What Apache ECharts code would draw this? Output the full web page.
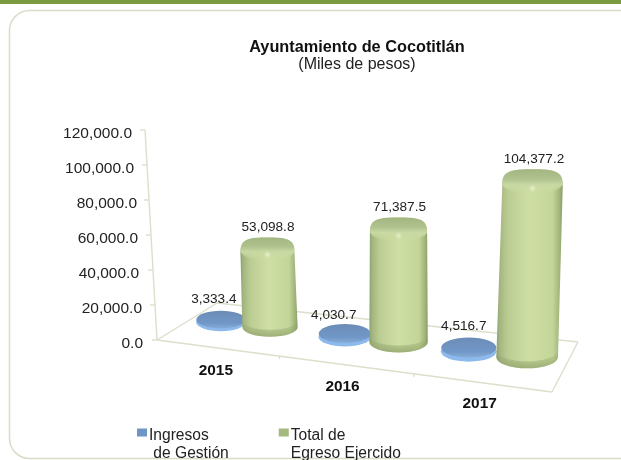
<!DOCTYPE html>
<html><head><meta charset="utf-8">
<style>html,body{margin:0;padding:0;background:#fff}#c{width:621px;height:460px}</style>
<script src="https://cdn.jsdelivr.net/npm/echarts@6/dist/echarts.min.js"></script>
</head><body><div id="c"></div>
<script>
const categories = ['2015', '2016', '2017'];
const ingresos = [3333.4, 4030.7, 4516.7];
const egresos = [53098.8, 71387.5, 104377.2];
const axisTicks = [0, 20000, 40000, 60000, 80000, 100000, 120000];
const seriesNames = ['Ingresos\n de Gestión', 'Total de\nEgreso Ejercido'];

const FONT = '"Liberation Sans", Arial, sans-serif';
const G = echarts.graphic;
const fmt = v => v.toLocaleString('en-US', {minimumFractionDigits: 1, maximumFractionDigits: 1});
const GL = 157, GW = 395, GT = 130, GB = 340;
// floor of the pseudo-3D box
const FL = [157, 340], FR = [552, 392], BL = [217, 303], BR = [578, 342];
function floorPt(u, v) {
  const fx = FL[0] + (FR[0] - FL[0]) * u, fy = FL[1] + (FR[1] - FL[1]) * u;
  const bx = BL[0] + (BR[0] - BL[0]) * u, by = BL[1] + (BR[1] - BL[1]) * u;
  return [fx + (bx - fx) * v, fy + (by - fy) * v];
}
const ell = (cx, cy, rx, ry) => `M${cx - rx} ${cy}A${rx} ${ry} 0 1 1 ${cx + rx} ${cy}A${rx} ${ry} 0 1 1 ${cx - rx} ${cy}Z`;
const grad = (x2, y2, stops) => new G.LinearGradient(0, 0, x2, y2, stops.map(c => ({offset: c[0], color: c[1]})));
const labelDx = [[-7, 0.5], [-11, 1], [-5, 1.5]];

function cyl(seriesIdx) {
  return function (params, api) {
    const cat = api.value(0), val = api.value(1);
    const p = api.coord([cat, val]);
    const ub = (p[0] - GL) / GW;
    const c = 0.14 + (ub - 1 / 6) * 1.011;
    const h = 0.0655 + (ub - 1 / 6) * 0.01875;
    const u = seriesIdx === 0 ? c - h : c + h;
    const base = floorPt(u, 0.6);
    const k = (0.875 + (base[0] - 269) * 0.000405) * (seriesIdx === 0 ? 0.5 : 1);
    const hPx = (GB - p[1]) * k;
    const tilt = (base[0] - 400) * 0.000235;
    const tx = base[0] + tilt * hPx, ty = base[1] - hPx;
    const rx = 24.8 + 0.0125 * (base[0] - 220) + seriesIdx * 2.2;
    const children = [];
    if (seriesIdx === 0) {
      const ry = rx * 0.37;
      children.push({type: 'path', shape: {pathData: ell(base[0], base[1] + 1, rx, ry)}, style: {fill: '#8dbaec'}});
      children.push({type: 'path', shape: {pathData: ell(tx, ty + 1, rx - 0.3, ry - 0.3)},
        style: {fill: grad(0, 1, [[0, '#6c8cb6'], [0.7, '#7197c8'], [1, '#86acd9']])}});
      children.push({type: 'text', x: tx + labelDx[cat][0], y: ty - ry - 3 + (cat === 1 ? 2 : 0),
        style: {text: fmt(val), font: '13.6px ' + FONT, fill: '#222', align: 'center', verticalAlign: 'bottom'}});
    } else {
      const rT = rx - 0.6, ryT = rT * 0.3, ryB = rx * 0.36;
      const top = ty - ryT;
      const body = `M${tx - rT} ${ty + 8}C${tx - rT} ${top + 1} ${tx - rT * 0.65} ${top} ${tx} ${top}C${tx + rT * 0.65} ${top} ${tx + rT} ${top + 1} ${tx + rT} ${ty + 8}L${base[0] + rx} ${base[1]}A${rx} ${ryB} 0 0 1 ${base[0] - rx} ${base[1]}Z`;
      children.push({type: 'path', shape: {pathData: body},
        style: {fill: grad(1, 0, [[0, '#8d9f6c'], [0.05, '#a4b67f'], [0.18, '#bccd94'], [0.5, '#cfdfa4'], [0.85, '#c3d598'], [0.95, '#a2b57c'], [1, '#8b9e69']])}});
      // soft lower rim
      const rim = `M${base[0] - rx} ${base[1] - 7}L${base[0] - rx} ${base[1]}A${rx} ${ryB} 0 0 0 ${base[0] + rx} ${base[1]}L${base[0] + rx} ${base[1] - 7}A${rx} ${ryB} 0 0 1 ${base[0] - rx} ${base[1] - 7}Z`;
      children.push({type: 'path', shape: {pathData: rim},
        style: {fill: grad(0, 1, [[0, 'rgba(140,160,100,0)'], [1, 'rgba(125,145,90,0.6)']])}});
      // rounded cap: top face shading melting into a highlight band
      const capEnd = ty + ryT + 7;
      const cap = `M${tx - rT} ${ty + 5}C${tx - rT} ${top + 1} ${tx - rT * 0.65} ${top} ${tx} ${top}C${tx + rT * 0.65} ${top} ${tx + rT} ${top + 1} ${tx + rT} ${ty + 5}A${rT} ${capEnd - ty - 5} 0 0 1 ${tx - rT} ${ty + 5}Z`;
      children.push({type: 'path', shape: {pathData: cap},
        style: {fill: grad(0, 1, [[0, '#a3b681'], [0.4, '#b0c28d'], [0.62, '#c9d9a4'], [1, 'rgba(205,222,162,0)']])}});
      // highlight in front of the top face
      children.push({type: 'path', shape: {pathData: ell(tx, ty + ryT + 1, rT * 0.6, 4)},
        style: {fill: new G.RadialGradient(0.5, 0.5, 0.5, [{offset: 0, color: 'rgba(236,243,212,0.9)'}, {offset: 1, color: 'rgba(225,236,190,0)'}])}});
      children.push({type: 'text', x: tx + labelDx[cat][1], y: top - 3,
        style: {text: fmt(val), font: '13.6px ' + FONT, fill: '#222', align: 'center', verticalAlign: 'bottom'}});
    }
    return {type: 'group', children};
  };
}

function frameItem(params, api) {
  const val = api.value(0);
  const y = api.coord([0, val])[1];
  const x = GL - (GB - y) * 0.057;
  const line = (a, b) => ({type: 'line', shape: {x1: a[0], y1: a[1], x2: b[0], y2: b[1]}, style: {stroke: '#dcdfcb', lineWidth: 1.4}});
  const children = [line([x - 5, y], [x, y])];
  if (val === axisTicks[0]) {
    children.push(line([GL, GB], [GL - (GB - GT) * 0.057, GT]));
    children.push(line(FL, FR), line(FR, BR), line(BR, BL), line(BL, FL));
    [1 / 3, 2 / 3].forEach(t => {
      const q = floorPt(t - 0.03 + 0.02 * t, 0);
      children.push(line(q, [q[0], q[1] + 3]));
    });
  }
  return {type: 'group', children};
}

const yPad = [0, 1, 4, 5, 6, 9, 11];
const xPad = [[23, 14], [39, 24], [56, 13]];
const yRich = {}, xRich = {};
yPad.forEach((r, i) => { yRich['t' + i] = {padding: [7, r, 0, 0], fontSize: 15.5, fontFamily: FONT, color: '#222'}; });
xPad.forEach((r, i) => { xRich['t' + i] = {padding: [r[0], r[1], 0, 0], fontSize: 15.4, fontWeight: 'bold', fontFamily: FONT, color: '#111'}; });

const icon = 'path://M0 3H10V11H0ZM0 36H0.01V36.01H0Z';

const chart = echarts.init(document.getElementById('c'), null, {renderer: 'canvas'});
chart.setOption({
  animation: false,
  backgroundColor: '#fff',
  title: {
    text: 'Ayuntamiento de Cocotitlán', subtext: '(Miles de pesos)',
    left: 357, textAlign: 'center', top: 40, itemGap: 1, padding: 0,
    textStyle: {fontFamily: FONT, fontSize: 16.3, fontWeight: 'bold', color: '#111'},
    subtextStyle: {fontFamily: FONT, fontSize: 16, color: '#222'}
  },
  graphic: [
    {type: 'rect', z: -10, shape: {x: 0, y: 0, width: 621, height: 4}, style: {fill: '#7b9a42'}},
    {type: 'rect', z: -10, shape: {x: 9.5, y: 10.5, width: 700, height: 448, r: 20}, style: {fill: '#fff', stroke: '#d9dcc8', lineWidth: 1.5}}
  ],
  legend: {
    left: 137, top: 427, padding: 0, orient: 'horizontal', itemWidth: 10, itemHeight: 36, itemGap: 50, icon,
    data: seriesNames,
    textStyle: {fontFamily: FONT, fontSize: 15.6, lineHeight: 18, color: '#222', padding: [0, 0, 0, -3]}
  },
  grid: {left: GL, top: GT, width: GW, height: GB - GT},
  xAxis: {
    type: 'category', data: categories,
    axisLine: {show: false}, axisTick: {show: false}, splitLine: {show: false},
    axisLabel: {margin: 0, verticalAlign: 'top',
      formatter: (v, i) => `{t${i}|${v}}`, rich: xRich}
  },
  yAxis: {
    type: 'value', min: 0, max: 120000, interval: 20000,
    axisLine: {show: false}, axisTick: {show: false}, splitLine: {show: false},
    axisLabel: {margin: 14,
      formatter: (v) => `{t${axisTicks.indexOf(v)}|${fmt(v)}}`, rich: yRich}
  },
  series: [
    {type: 'custom', name: 'frame', z: 1, silent: true, renderItem: frameItem, data: axisTicks.map(v => [v]), encode: {y: 0}, clip: false},
    {type: 'custom', name: seriesNames[0], z: 2, renderItem: cyl(0), clip: false,
      itemStyle: {color: '#6f95c6'}, data: ingresos.map((v, i) => [i, v]), encode: {x: 0, y: 1}},
    {type: 'custom', name: seriesNames[1], z: 3, renderItem: cyl(1), clip: false,
      itemStyle: {color: '#a3ba7c'}, data: egresos.map((v, i) => [i, v]), encode: {x: 0, y: 1}}
  ]
});
</script></body></html>
